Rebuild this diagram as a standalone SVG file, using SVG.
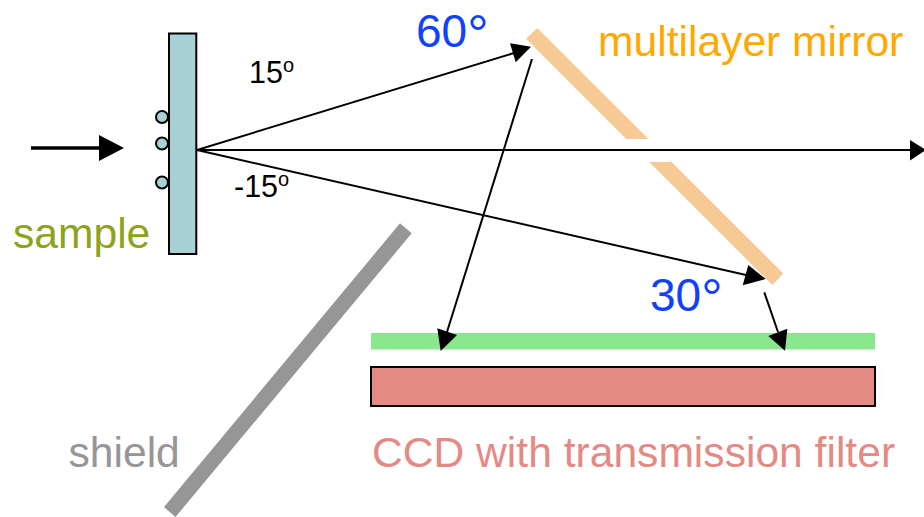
<svg xmlns="http://www.w3.org/2000/svg" width="924" height="517" viewBox="0 0 924 517">
<style>
text{font-family:"Liberation Sans",Arial,sans-serif}
.blk{fill:#000;font-size:30.500px}
.sup{font-size:20px}
.ang{fill:#1240FF;font-size:46px}
.deg{font-size:54px}
.lbl{font-size:42.600px}
.ray{stroke:#000;stroke-width:2;fill:none}
.head{fill:#000}
.part{stroke:#000;stroke-width:2}
</style>
<rect width="924" height="517" fill="#fff"/>
<g id="mirror"><polygon points="537.3,28 526,38.7 772.3,285 783.3,273.5" fill="#F6C995"/><rect x="620" y="139" width="50" height="23" fill="#fff"/><text class="lbl" x="598" y="56" fill="#FFA800">multilayer mirror</text></g>
<g id="sample"><rect class="part" x="169" y="33.5" width="27.3" height="220.5" fill="#A7D1D7"/><circle class="part" cx="162" cy="117" r="6" fill="#A7D1D7"/><circle class="part" cx="162" cy="143.500" r="6" fill="#A7D1D7"/><circle class="part" cx="162" cy="182.500" r="6" fill="#A7D1D7"/><text class="lbl" x="13" y="247.500" fill="#8DA31C">sample</text></g>
<g id="shield"><polygon points="400,223.3 411.700,233.3 175.500,517 164,507" fill="#969696"/><text class="lbl" x="68.500" y="467" fill="#969696">shield</text></g>
<g id="filter"><rect x="371" y="333" width="504" height="16.500" fill="#89E78E"/></g>
<g id="ccd"><rect class="part" x="371" y="367" width="504" height="39" fill="#E38A84"/><text class="lbl" x="372" y="467" fill="#E38A84">CCD with transmission filter</text></g>
<g id="angle-60"><text class="ang" x="416" y="47">60<tspan class="deg" dy="6">°</tspan></text></g>
<g id="angle-30"><text class="ang" x="650" y="311">30<tspan class="deg" dy="6">°</tspan></text></g>
<g id="angle-15"><text class="blk" x="249" y="83">15<tspan class="sup" dy="-11">o</tspan></text></g>
<g id="angle-minus-15"><text class="blk" x="234" y="197">-15<tspan class="sup" dy="-11">o</tspan></text></g>
<g id="connectors">
<line x1="31" y1="148" x2="100" y2="148" stroke="#000" stroke-width="3.500"/><polygon class="head" points="124,148 99,135 99,161"/>
<line class="ray" x1="197" y1="150" x2="912" y2="150"/><polygon class="head" points="926,150 910,140 910,160.500"/>
<line class="ray" x1="197" y1="150" x2="514" y2="53"/><polygon class="head" points="531,46.700 510,43.300 515.700,62.300"/>
<line class="ray" x1="197" y1="150" x2="746" y2="275"/><polygon class="head" points="765.700,279 748.300,265 742.700,285.300"/>
<line class="ray" x1="532" y1="59" x2="447" y2="332"/><polygon class="head" points="440.700,351 437.300,328.300 457,335"/>
<line class="ray" x1="764.300" y1="292.300" x2="778" y2="332"/><polygon class="head" points="785,350.700 768.300,336 787.300,328.700"/>
</g>
</svg>
